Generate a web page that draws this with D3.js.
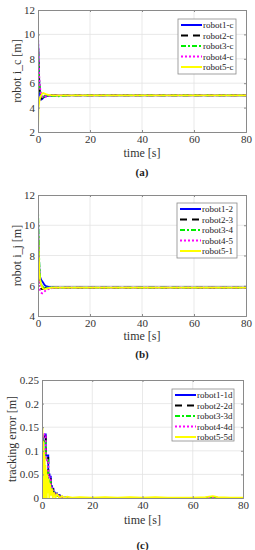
<!DOCTYPE html>
<html><head><meta charset="utf-8">
<script src="https://cdn.jsdelivr.net/npm/d3@7"></script>
<style>body{margin:0;background:#fff}svg{display:block}svg text{font-family:"Liberation Serif","DejaVu Serif","Times New Roman",serif}</style>
</head><body>
<svg id="c" width="255" height="550"></svg>
<script>
// ---------- data ----------
const seriesColors = ["#0000ff", "#000000", "#00ee00", "#ff00ff", "#ffff00"];
const seriesDash = [null, "7,5", "5,2,2,2", "2,2", null];

const xTicks = [0, 20, 40, 60, 80];

// panel (a)
const namesA = ["robot1-c", "robot2-c", "robot3-c", "robot4-c", "robot5-c"];
const timeA = [0, 0.2, 0.5, 0.8, 1.2, 1.6, 2, 2.5, 3, 4, 5, 6, 8, 10, 14, 80];
const a1 = [10.0, 8.0, 6.0, 5.0, 4.65, 4.7, 4.8, 4.88, 4.93, 4.97, 4.99, 5.0, 5.0, 5.0, 5.0, 5.0];
const a2 = [9.8, 7.6, 5.7, 4.9, 4.75, 4.8, 4.86, 4.92, 4.95, 4.98, 5.0, 5.0, 5.0, 5.0, 5.0, 5.0];
const a3 = [9.5, 7.8, 6.2, 5.4, 5.0, 4.85, 4.88, 4.92, 4.95, 4.97, 4.98, 4.95, 4.93, 4.97, 5.0, 5.0];
const a4 = [10.2, 8.3, 6.4, 5.6, 5.1, 4.9, 4.82, 4.85, 4.9, 4.96, 5.0, 5.0, 5.0, 5.0, 5.0, 5.0];
const a5 = [2.0, 4.0, 4.5, 4.8, 5.0, 5.15, 5.2, 5.15, 5.1, 5.05, 5.02, 5.0, 5.0, 5.0, 5.0, 5.0];
const yTicksA = [2, 4, 6, 8, 10, 12];

// panel (b)
const namesB = ["robot1-2", "robot2-3", "robot3-4", "robot4-5", "robot5-1"];
const timeB = [0, 0.2, 0.5, 0.8, 1.2, 1.6, 2, 2.5, 3, 4, 5, 6, 8, 10, 14, 80];
const b1 = [10.7, 9.0, 7.2, 6.6, 6.4, 6.3, 6.2, 6.05, 5.98, 5.92, 5.9, 5.89, 5.88, 5.88, 5.88, 5.88];
const b2 = [9.0, 7.5, 6.3, 5.9, 5.8, 5.78, 5.8, 5.82, 5.84, 5.86, 5.87, 5.88, 5.88, 5.88, 5.88, 5.88];
const b3 = [11.2, 9.5, 7.5, 6.5, 6.1, 5.95, 5.9, 5.89, 5.88, 5.88, 5.88, 5.88, 5.88, 5.88, 5.88, 5.88];
const b4 = [9.5, 7.6, 6.2, 5.7, 5.55, 5.5, 5.55, 5.62, 5.7, 5.78, 5.83, 5.86, 5.88, 5.88, 5.88, 5.88];
const b5 = [10.0, 8.6, 7.0, 6.4, 6.1, 5.9, 5.8, 5.78, 5.8, 5.84, 5.87, 5.88, 5.88, 5.88, 5.88, 5.88];
const yTicksB = [4, 6, 8, 10, 12];

// panel (c)
const namesC = ["robot1-1d", "robot2-2d", "robot3-3d", "robot4-4d", "robot5-5d"];
const timeC = [0, 0.5, 1, 1.5, 2, 2.5, 3, 3.5, 4, 4.5, 5, 6, 7, 8, 10, 80];
const c1 = [0.12, 0.13, 0.135, 0.09, 0.09, 0.05, 0.045, 0.025, 0.02, 0.012, 0.01, 0.006, 0.003, 0.001, 0, 0];
const c2 = [0.11, 0.12, 0.13, 0.085, 0.085, 0.045, 0.04, 0.022, 0.018, 0.01, 0.008, 0.005, 0.002, 0.001, 0, 0];
const c3 = [0.10, 0.12, 0.12, 0.08, 0.08, 0.04, 0.035, 0.02, 0.015, 0.008, 0.006, 0.004, 0.002, 0.001, 0, 0];
const c4 = [0.13, 0.135, 0.13, 0.085, 0.08, 0.045, 0.04, 0.022, 0.016, 0.01, 0.007, 0.004, 0.002, 0.001, 0, 0];
const timeC5 = [0, 0.1, 0.2, 0.3, 0.45, 0.6, 0.75, 0.9, 1.05, 1.2, 1.35, 1.5, 1.7, 1.9, 2.1, 2.3, 2.6, 2.9, 3.2, 3.5, 3.9, 4.3, 4.8, 5.3, 6, 7, 8, 9, 10, 12, 15, 20, 25, 30, 35, 40, 45, 50, 55, 60, 65, 68, 70, 75, 80];
const c5 = [0.21, 0.02, 0.15, 0.01, 0.12, 0.0, 0.10, 0.02, 0.09, 0.0, 0.07, 0.01, 0.06, 0.0, 0.05, 0.01, 0.04, 0.0, 0.03, 0.005, 0.02, 0.0, 0.012, 0.0, 0.008, 0.0, 0.004, 0.0, 0.003, 0.001, 0.002, 0.001, 0.002, 0.001, 0.002, 0.001, 0.002, 0.001, 0.001, 0.001, 0.002, 0.004, 0.002, 0.001, 0.001];
const yTicksC = [0, 0.05, 0.1, 0.15, 0.2, 0.25];
const yLabelsC = ["0", "0.05", "0.1", "0.15", "0.2", "0.25"];

// ---------- drawing ----------
const svg = d3.select("#c");
const font = "'Liberation Serif', 'DejaVu Serif', 'Times New Roman', serif";

function panel(cfg) {
  const x = d3.scaleLinear().domain([0, 80]).range([cfg.left, cfg.right]);
  const y = d3.scaleLinear().domain(cfg.yDomain).range([cfg.bottom, cfg.top]);
  const g = svg.append("g");

  // grid
  g.selectAll(".gx").data(xTicks.slice(1, -1)).join("line")
    .attr("x1", d => x(d)).attr("x2", d => x(d)).attr("y1", cfg.top).attr("y2", cfg.bottom)
    .attr("stroke", "#e3e3e3").attr("stroke-width", 0.8);
  g.selectAll(".gy").data(cfg.yTicks.slice(1, -1)).join("line")
    .attr("y1", d => y(d)).attr("y2", d => y(d)).attr("x1", cfg.left).attr("x2", cfg.right)
    .attr("stroke", "#e3e3e3").attr("stroke-width", 0.8);

  // lines
  const clip = "clip" + cfg.id;
  svg.append("clipPath").attr("id", clip).append("rect")
    .attr("x", cfg.left).attr("y", cfg.top - 1).attr("width", cfg.right - cfg.left).attr("height", cfg.bottom - cfg.top + 1);
  const lg = g.append("g").attr("clip-path", `url(#${clip})`);
  cfg.series.forEach((s, i) => {
    const line = d3.line().x(d => x(d[0])).y(d => y(d[1])).curve(s.curve || d3.curveLinear);
    lg.append("path").datum(d3.zip(s.t, s.v)).attr("d", line)
      .attr("fill", "none").attr("stroke", seriesColors[i]).attr("stroke-width", 1.8)
      .attr("stroke-dasharray", seriesDash[i]);
  });

  // axes (ticks inward)
  const axB = d3.axisBottom(x).tickValues(xTicks).tickSize(-2).tickPadding(3);
  const axL = d3.axisLeft(y).tickValues(cfg.yTicks).tickSize(-2).tickPadding(3);
  if (cfg.yFormat) axL.tickFormat(cfg.yFormat);
  const axT = d3.axisTop(x).tickValues(xTicks).tickSize(-2).tickFormat("");
  const axR = d3.axisRight(y).tickValues(cfg.yTicks).tickSize(-2).tickFormat("");
  [[axB, `translate(0,${cfg.bottom})`], [axL, `translate(${cfg.left},0)`],
   [axT, `translate(0,${cfg.top})`], [axR, `translate(${cfg.right},0)`]].forEach(([ax, tr]) => {
    const a = g.append("g").attr("transform", tr).call(ax);
    a.attr("font-family", font);
    a.select(".domain").attr("stroke", "#8a8a8a");
    a.selectAll(".tick line").attr("stroke", "#8a8a8a");
    a.selectAll("text").attr("font-family", font).attr("font-size", 11).attr("fill", "#333");
  });

  // axis labels
  g.append("text").attr("x", (cfg.left + cfg.right) / 2).attr("y", cfg.xLabelY)
    .attr("text-anchor", "middle").attr("dominant-baseline", "central")
    .attr("font-family", font).attr("font-size", 12).attr("fill", "#333").text("time [s]");
  g.append("text").attr("transform", `translate(${cfg.yLabelX},${(cfg.top + cfg.bottom) / 2}) rotate(-90)`)
    .attr("text-anchor", "middle").attr("dominant-baseline", "central")
    .attr("font-family", font).attr("font-size", 12).attr("fill", "#333").text(cfg.yLabel);
  g.append("text").attr("x", (cfg.left + cfg.right) / 2).attr("y", cfg.capY)
    .attr("text-anchor", "middle").attr("dominant-baseline", "central")
    .attr("font-family", font).attr("font-size", 11).attr("font-weight", "bold").attr("fill", "#222").text(cfg.caption);

  // legend
  const L = cfg.legend;
  const lgd = g.append("g");
  lgd.append("rect").attr("x", L.x).attr("y", L.y).attr("width", L.w).attr("height", L.h)
    .attr("fill", "#fff").attr("stroke", "#8a8a8a").attr("stroke-width", 0.8);
  cfg.names.forEach((n, i) => {
    const yy = L.y + 6 + i * 10.5;
    lgd.append("line").attr("x1", L.x + 3).attr("x2", L.x + 24).attr("y1", yy).attr("y2", yy)
      .attr("stroke", seriesColors[i]).attr("stroke-width", 2).attr("stroke-dasharray", seriesDash[i]);
    lgd.append("text").attr("x", L.x + 25).attr("y", yy).attr("dominant-baseline", "central")
      .attr("font-family", font).attr("font-size", 9).attr("fill", "#222").text(n);
  });
}

panel({
  id: "a", left: 38, right: 246, top: 10, bottom: 132, yDomain: [2, 12], yTicks: yTicksA,
  yLabel: "robot i_c [m]", yLabelX: 17, xLabelY: 153, capY: 172, caption: "(a)", names: namesA,
  legend: { x: 178, y: 19, w: 58, h: 55 },
  series: [a1, a2, a3, a4, a5].map(v => ({ t: timeA, v }))
});
panel({
  id: "b", left: 38, right: 246, top: 195, bottom: 316, yDomain: [4, 12], yTicks: yTicksB,
  yLabel: "robot i_j [m]", yLabelX: 17, xLabelY: 336, capY: 354, caption: "(b)", names: namesB,
  legend: { x: 177, y: 203, w: 60, h: 55 },
  series: [b1, b2, b3, b4, b5].map(v => ({ t: timeB, v }))
});
panel({
  id: "c", left: 42, right: 243, top: 380, bottom: 498, yDomain: [0, 0.25], yTicks: yTicksC,
  yFormat: (d, i) => yLabelsC[i],
  yLabel: "tracking error [m]", yLabelX: 12, xLabelY: 520, capY: 545, caption: "(c)", names: namesC,
  legend: { x: 172, y: 389, w: 62, h: 52 },
  series: [
    { t: timeC, v: c1, curve: d3.curveStepAfter },
    { t: timeC, v: c2, curve: d3.curveStepAfter },
    { t: timeC, v: c3, curve: d3.curveStepAfter },
    { t: timeC, v: c4, curve: d3.curveStepAfter },
    { t: timeC5, v: c5 }
  ]
});
</script>
</body></html>
